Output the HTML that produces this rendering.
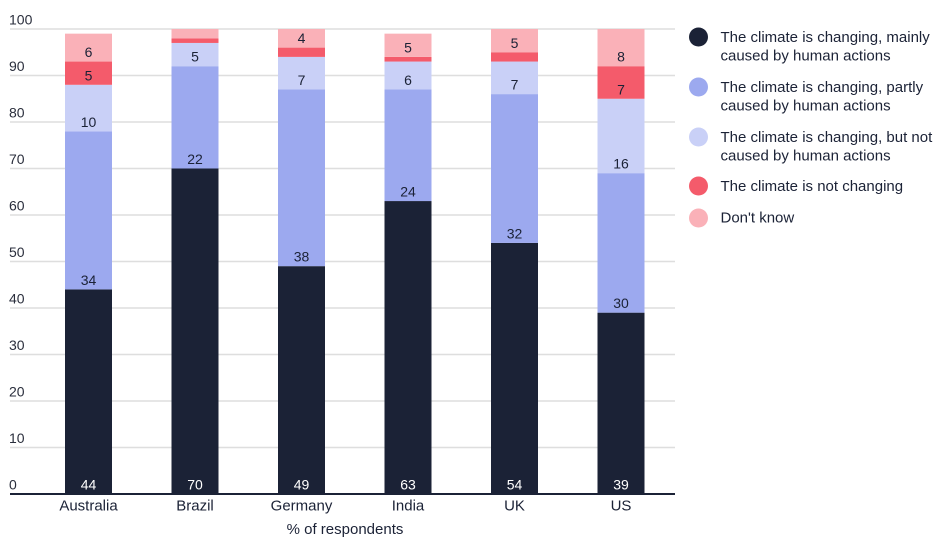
<!DOCTYPE html>
<html><head><meta charset="utf-8"><style>
html,body{margin:0;padding:0;background:#fff;}
svg{display:block;font-family:"Liberation Sans",sans-serif;}
</style></head><body>
<svg width="943" height="546" viewBox="0 0 943 546" xmlns="http://www.w3.org/2000/svg">
<g stroke="#dedede" stroke-width="1.5">
<line x1="10" x2="675" y1="29" y2="29"/>
<line x1="10" x2="675" y1="75.5" y2="75.5"/>
<line x1="10" x2="675" y1="122" y2="122"/>
<line x1="10" x2="675" y1="168.5" y2="168.5"/>
<line x1="10" x2="675" y1="215" y2="215"/>
<line x1="10" x2="675" y1="261.5" y2="261.5"/>
<line x1="10" x2="675" y1="308" y2="308"/>
<line x1="10" x2="675" y1="354.5" y2="354.5"/>
<line x1="10" x2="675" y1="401" y2="401"/>
<line x1="10" x2="675" y1="447.5" y2="447.5"/>
</g>
<g fill="#2a2e3c" font-size="14">
<text x="9" y="24.5">100</text>
<text x="9" y="71">90</text>
<text x="9" y="117.5">80</text>
<text x="9" y="164">70</text>
<text x="9" y="210.5">60</text>
<text x="9" y="257">50</text>
<text x="9" y="303.5">40</text>
<text x="9" y="350">30</text>
<text x="9" y="396.5">20</text>
<text x="9" y="443">10</text>
<text x="9" y="489.5">0</text>
</g>
<!-- Bars -->
<!-- Australia 44,34,10,5,6 -->
<g>
<rect x="65" y="289.4" width="47" height="204.6" fill="#1b2236"/>
<rect x="65" y="131.3" width="47" height="158.1" fill="#9ca9ef"/>
<rect x="65" y="84.8" width="47" height="46.5" fill="#c9d0f7"/>
<rect x="65" y="61.55" width="47" height="23.25" fill="#f45b6b"/>
<rect x="65" y="33.65" width="47" height="27.9" fill="#fab1b8"/>
</g>
<!-- Brazil 70,22,5,1,2 -->
<g>
<rect x="171.5" y="168.5" width="47" height="325.5" fill="#1b2236"/>
<rect x="171.5" y="66.2" width="47" height="102.3" fill="#9ca9ef"/>
<rect x="171.5" y="42.95" width="47" height="23.25" fill="#c9d0f7"/>
<rect x="171.5" y="38.3" width="47" height="4.65" fill="#f45b6b"/>
<rect x="171.5" y="29" width="47" height="9.3" fill="#fab1b8"/>
</g>
<!-- Germany 49,38,7,2,4 -->
<g>
<rect x="278" y="266.15" width="47" height="227.85" fill="#1b2236"/>
<rect x="278" y="89.45" width="47" height="176.7" fill="#9ca9ef"/>
<rect x="278" y="56.9" width="47" height="32.55" fill="#c9d0f7"/>
<rect x="278" y="47.6" width="47" height="9.3" fill="#f45b6b"/>
<rect x="278" y="29" width="47" height="18.6" fill="#fab1b8"/>
</g>
<!-- India 63,24,6,1,5 -->
<g>
<rect x="384.5" y="201.05" width="47" height="292.95" fill="#1b2236"/>
<rect x="384.5" y="89.45" width="47" height="111.6" fill="#9ca9ef"/>
<rect x="384.5" y="61.55" width="47" height="27.9" fill="#c9d0f7"/>
<rect x="384.5" y="56.9" width="47" height="4.65" fill="#f45b6b"/>
<rect x="384.5" y="33.65" width="47" height="23.25" fill="#fab1b8"/>
</g>
<!-- UK 54,32,7,2,5 -->
<g>
<rect x="491" y="242.9" width="47" height="251.1" fill="#1b2236"/>
<rect x="491" y="94.1" width="47" height="148.8" fill="#9ca9ef"/>
<rect x="491" y="61.55" width="47" height="32.55" fill="#c9d0f7"/>
<rect x="491" y="52.25" width="47" height="9.3" fill="#f45b6b"/>
<rect x="491" y="29" width="47" height="23.25" fill="#fab1b8"/>
</g>
<!-- US 39,30,16,7,8 -->
<g>
<rect x="597.5" y="312.65" width="47" height="181.35" fill="#1b2236"/>
<rect x="597.5" y="173.15" width="47" height="139.5" fill="#9ca9ef"/>
<rect x="597.5" y="98.75" width="47" height="74.4" fill="#c9d0f7"/>
<rect x="597.5" y="66.2" width="47" height="32.55" fill="#f45b6b"/>
<rect x="597.5" y="29" width="47" height="37.2" fill="#fab1b8"/>
</g>
<line x1="10" x2="675" y1="494" y2="494" stroke="#1b2236" stroke-width="2"/>
<!-- value labels -->
<g font-size="14" text-anchor="middle" fill="#1b2236">
<g fill="#ffffff">
<text x="88.5" y="489.5">44</text>
<text x="195" y="489.5">70</text>
<text x="301.5" y="489.5">49</text>
<text x="408" y="489.5">63</text>
<text x="514.5" y="489.5">54</text>
<text x="621" y="489.5">39</text>
</g>
<text x="88.5" y="285">34</text>
<text x="88.5" y="127">10</text>
<text x="88.5" y="80.3">5</text>
<text x="88.5" y="57">6</text>
<text x="195" y="164">22</text>
<text x="195" y="61.7">5</text>
<text x="301.5" y="261.7">38</text>
<text x="301.5" y="85">7</text>
<text x="301.5" y="43.1">4</text>
<text x="408" y="196.6">24</text>
<text x="408" y="85">6</text>
<text x="408" y="52.4">5</text>
<text x="514.5" y="238.4">32</text>
<text x="514.5" y="89.6">7</text>
<text x="514.5" y="47.8">5</text>
<text x="621" y="308.2">30</text>
<text x="621" y="168.7">16</text>
<text x="621" y="94.3">7</text>
<text x="621" y="61.7">8</text>
</g>
<!-- category labels -->
<g font-size="15" text-anchor="middle" fill="#1b2236">
<text x="88.5" y="510.5">Australia</text>
<text x="195" y="510.5">Brazil</text>
<text x="301.5" y="510.5">Germany</text>
<text x="408" y="510.5">India</text>
<text x="514.5" y="510.5">UK</text>
<text x="621" y="510.5">US</text>
<text x="345" y="534">% of respondents</text>
</g>
<!-- legend -->
<circle cx="698.5" cy="37" r="9.5" fill="#1b2236"/>
<circle cx="698.5" cy="87" r="9.5" fill="#9ca9ef"/>
<circle cx="698.5" cy="137" r="9.5" fill="#c9d0f7"/>
<circle cx="698.5" cy="186" r="9.5" fill="#f45b6b"/>
<circle cx="698.5" cy="218" r="9.5" fill="#fab1b8"/>
<g font-size="15" fill="#1b2236">
<text x="720.5" y="42">The climate is changing, mainly</text>
<text x="720.5" y="60.5">caused by human actions</text>
<text x="720.5" y="92">The climate is changing, partly</text>
<text x="720.5" y="110.5">caused by human actions</text>
<text x="720.5" y="142">The climate is changing, but not</text>
<text x="720.5" y="160.5">caused by human actions</text>
<text x="720.5" y="191">The climate is not changing</text>
<text x="720.5" y="222.5">Don't know</text>
</g>
</svg>
</body></html>
